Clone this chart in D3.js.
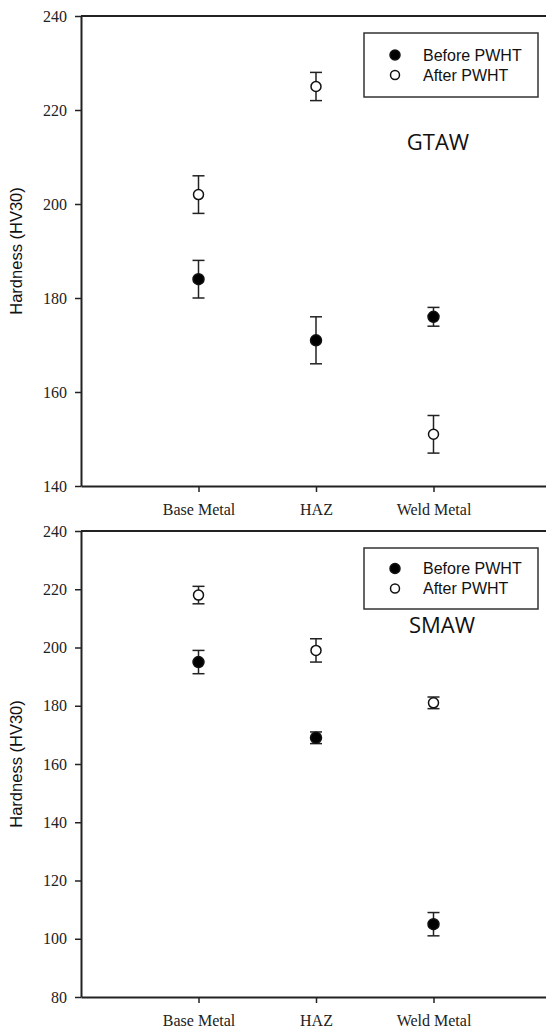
<!DOCTYPE html>
<html lang="en">
<head>
<meta charset="UTF-8">
<title>Hardness before and after PWHT</title>
<script src="https://d3js.org/d3.v7.min.js"></script>
<style>
  body { margin: 0; background: #fff; }
  svg { display: block; }
</style>
</head>
<body>
<script>
    // data
    var categories = ["Base Metal", "HAZ", "Weld Metal"];

    var gtawBefore = [184, 171, 176];
    var gtawBeforeErr = [4, 5, 2];
    var gtawAfter = [202, 225, 151];
    var gtawAfterErr = [4, 3, 4];

    var smawBefore = [195, 169, 105];
    var smawBeforeErr = [4, 2, 4];
    var smawAfter = [218, 199, 181];
    var smawAfterErr = [3, 4, 2];

    var gtawTicks = [140, 160, 180, 200, 220, 240];
    var smawTicks = [80, 100, 120, 140, 160, 180, 200, 220, 240];

    var seriesNames = ["Before PWHT", "After PWHT"];

    var width = 546, height = 1028;
    var ink = "#222";

    var svg = d3.select("body").append("svg")
        .attr("width", width)
        .attr("height", height);

    // one panel per welding process
    function drawPanel(opt) {
        var g = svg.append("g");

        var x = d3.scaleLinear().domain([0, 4]).range([81, 551]);
        var y = d3.scaleLinear().domain([opt.ticks[0], opt.ticks[opt.ticks.length - 1]])
            .range([opt.bottom, opt.top]);

        // y axis
        var yAxis = g.append("g")
            .attr("transform", "translate(81,0)")
            .call(d3.axisLeft(y).tickValues(opt.ticks).tickSize(6).tickPadding(8).tickSizeOuter(0));

        // x axis
        var xAxis = g.append("g")
            .attr("transform", "translate(0," + opt.bottom + ")")
            .call(d3.axisBottom(x).tickValues([1, 2, 3]).tickSize(6).tickPadding(12).tickSizeOuter(0)
                .tickFormat(function (d) { return categories[d - 1]; }));

        // top frame line
        g.append("line")
            .attr("x1", x(0)).attr("x2", x(4))
            .attr("y1", y(opt.ticks[opt.ticks.length - 1])).attr("y2", y(opt.ticks[opt.ticks.length - 1]))
            .attr("stroke", ink).attr("stroke-width", 2);

        [yAxis, xAxis].forEach(function (a) {
            a.select(".domain").attr("stroke", ink).attr("stroke-width", 2);
            a.selectAll(".tick line").attr("stroke", ink).attr("stroke-width", 1.5);
            a.selectAll("text")
                .attr("fill", "#222")
                .style("font-family", "'Liberation Serif', 'Times New Roman', serif")
                .style("font-size", "16px");
        });

        // axis title
        g.append("text")
            .attr("transform", "translate(22," + ((opt.top + opt.bottom) / 2) + ") rotate(-90)")
            .attr("text-anchor", "middle")
            .style("font-family", "'Liberation Sans', Arial, sans-serif")
            .style("font-size", "16.5px")
            .attr("fill", "#111")
            .text("Hardness (HV30)");

        // points with error bars
        var series = [
            { vals: opt.after, errs: opt.afterErr, fill: "#fff" },
            { vals: opt.before, errs: opt.beforeErr, fill: "#000" }
        ];

        series.forEach(function (s) {
            var pts = s.vals.map(function (v, i) { return { x: i + 1, v: v, e: s.errs[i] }; });
            var pg = g.append("g");

            pg.selectAll("line.stem").data(pts).enter().append("line")
                .attr("x1", function (d) { return x(d.x); })
                .attr("x2", function (d) { return x(d.x); })
                .attr("y1", function (d) { return y(d.v + d.e); })
                .attr("y2", function (d) { return y(d.v - d.e); })
                .attr("stroke", ink).attr("stroke-width", 1.5);

            [1, -1].forEach(function (sign) {
                pg.selectAll("line.cap" + sign).data(pts).enter().append("line")
                    .attr("x1", function (d) { return x(d.x) - 6; })
                    .attr("x2", function (d) { return x(d.x) + 6; })
                    .attr("y1", function (d) { return y(d.v + sign * d.e); })
                    .attr("y2", function (d) { return y(d.v + sign * d.e); })
                    .attr("stroke", ink).attr("stroke-width", 1.5);
            });

            pg.selectAll("circle").data(pts).enter().append("circle")
                .attr("cx", function (d) { return x(d.x); })
                .attr("cy", function (d) { return y(d.v); })
                .attr("r", s.fill === "#000" ? 5.5 : 5)
                .attr("fill", s.fill)
                .attr("stroke", "#111")
                .attr("stroke-width", 1.5);
        });

        // legend
        var lg = g.append("g").attr("transform", "translate(364," + opt.legendTop + ")");
        lg.append("rect")
            .attr("width", 174).attr("height", opt.legendH)
            .attr("fill", "#fff").attr("stroke", "#333").attr("stroke-width", 1.5);

        seriesNames.forEach(function (name, i) {
            var cy = opt.legendH / 2 - 10 + i * 20;
            lg.append("circle")
                .attr("cx", 31).attr("cy", cy)
                .attr("r", i === 0 ? 5 : 4.5)
                .attr("fill", i === 0 ? "#000" : "#fff")
                .attr("stroke", "#111").attr("stroke-width", 1.5);
            lg.append("text")
                .attr("x", 59).attr("y", cy)
                .attr("dy", "0.36em")
                .style("font-family", "'Liberation Sans', Arial, sans-serif")
                .style("font-size", "16px")
                .attr("fill", "#111")
                .text(name);
        });

        // process label
        g.append("text")
            .attr("x", opt.labelX).attr("y", opt.labelY)
            .attr("text-anchor", "middle")
            .attr("dy", "0.35em")
            .style("font-family", "'Open Sans', sans-serif")
            .style("font-size", "22px")
            .attr("fill", "#111")
            .text(opt.label);
    }

    drawPanel({
        top: 16, bottom: 486, ticks: gtawTicks,
        before: gtawBefore, beforeErr: gtawBeforeErr,
        after: gtawAfter, afterErr: gtawAfterErr,
        legendTop: 33, legendH: 64,
        label: "GTAW", labelX: 438, labelY: 142
    });

    drawPanel({
        top: 531, bottom: 997, ticks: smawTicks,
        before: smawBefore, beforeErr: smawBeforeErr,
        after: smawAfter, afterErr: smawAfterErr,
        legendTop: 548, legendH: 61,
        label: "SMAW", labelX: 442, labelY: 625
    });
</script>
</body>
</html>
